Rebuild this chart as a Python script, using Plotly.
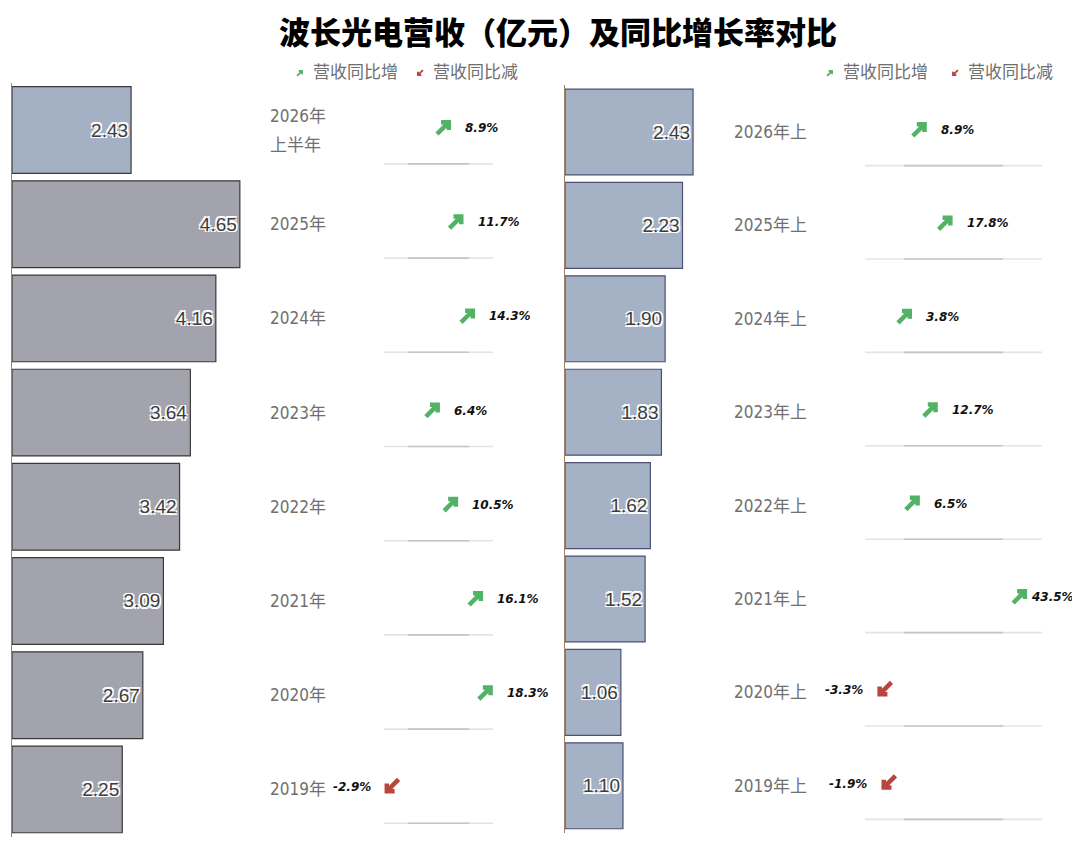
import plotly.graph_objects as go

# ---- data ----
annual_labels = ["2026年<br>上半年", "2025年", "2024年", "2023年", "2022年", "2021年", "2020年", "2019年"]
annual_revenue = [2.43, 4.65, 4.16, 3.64, 3.42, 3.09, 2.67, 2.25]
annual_growth = [8.9, 11.7, 14.3, 6.4, 10.5, 16.1, 18.3, -2.9]

half_labels = ["2026年上", "2025年上", "2024年上", "2023年上", "2022年上", "2021年上", "2020年上", "2019年上"]
half_revenue = [2.43, 2.23, 1.90, 1.83, 1.62, 1.52, 1.06, 1.10]
half_growth = [8.9, 17.8, 3.8, 12.7, 6.5, 43.5, -3.3, -1.9]

title_text = "波长光电营收（亿元）及同比增长率对比"
legend_up = "营收同比增"
legend_down = "营收同比减"

# the page puts the plot 8px in from the top-left corner of the window
OFF = 8
W, H = 1080 - OFF, 843 - OFF
GREEN = "#52b266"
RED = "#b8463c"
LABEL_FONT = "DejaVu Sans Condensed, Liberation Sans Narrow, Noto Sans CJK SC, sans-serif"
PCT_FONT = "DejaVu Sans, Verdana, sans-serif"

# bold north-east arrow outline, in pixels around its centre (y up)
ARROW_NE = [(-3, 7), (7, 7), (7, -3), (2.5, -3), (2.5, -0.7), (-5.4, -8.6),
            (-8.6, -5.4), (-0.7, 2.5), (-3, 2.5)]


def px(x):
    return (x - OFF) / W


def py(y):
    return 1 - (y - OFF) / H


def arrow_path(up, scale=1.0, lift=0.0):
    sign = 1 if up else -1
    pts = [(sign * x * scale, sign * y * scale + lift) for x, y in ARROW_NE]
    return "M" + " L".join(f"{x:.2f},{y:.2f}" for x, y in pts) + " Z"


fig = go.Figure()

panels = [
    dict(labels=annual_labels, rev=annual_revenue, growth=annual_growth,
         bar_dom=(12, 257), bar_rng=(0, 5),
         g_dom=(380, 545), g_rng=(-5.5, 31.6),
         y_dom=(82.9, 836.5), label_x=268, sep=(384, 493),
         edge="#3a3a3a",
         colors=["#a4b0c4"] + ["#a3a3ad"] * 7,
         legend_x=(300, 420)),
    dict(labels=half_labels, rev=half_revenue, growth=half_growth,
         bar_dom=(565, 723.1), bar_rng=(0, 3),
         g_dom=(850, 1070), g_rng=(-15.17, 60.7),
         y_dom=(85.3, 832.5), label_x=732, sep=(865, 1042),
         edge="#4a5078",
         colors=["#a5b1c5"] * 8,
         legend_x=(830, 955)),
]

annotations = []
shapes = []
axes = {}

for i, p in enumerate(panels):
    n = 2 * i + 1
    xb = "x" if n == 1 else f"x{n}"
    xg = f"x{n + 1}"
    yb = "y" if i == 0 else f"y{i + 1}"
    keys = [lab.replace("<br>", "") for lab in p["labels"]]

    fig.add_trace(go.Bar(
        x=p["rev"], y=keys, orientation="h",
        xaxis=xb, yaxis=yb,
        marker=dict(color=p["colors"], line=dict(color=p["edge"], width=1.2)),
        width=0.92,
        text=[f"{v:.2f}" for v in p["rev"]],
        textposition="inside", insidetextanchor="end",
        textfont=dict(family="Liberation Sans, Arial, sans-serif", size=19, color="#3c3c3c",
                      shadow="1.5px 1.5px 0 #fff, -1.5px -1.5px 0 #fff, 1.5px -1.5px 0 #fff, "
                             "-1.5px 1.5px 0 #fff, 0 0 2px #fff"),
        showlegend=False, hoverinfo="skip",
    ))
    # invisible trace so the growth axis has data
    fig.add_trace(go.Scatter(
        x=p["growth"], y=keys, mode="markers", marker=dict(size=1, opacity=0),
        xaxis=xg, yaxis=yb, showlegend=False, hoverinfo="skip",
    ))

    axes["xaxis" if n == 1 else f"xaxis{n}"] = dict(
        domain=[px(p["bar_dom"][0]), px(p["bar_dom"][1])], range=list(p["bar_rng"]),
        anchor=yb, visible=False, fixedrange=True)
    axes[f"xaxis{n + 1}"] = dict(
        domain=[px(p["g_dom"][0]), px(p["g_dom"][1])], range=list(p["g_rng"]),
        anchor=yb, visible=False, fixedrange=True)
    axes["yaxis" if i == 0 else f"yaxis{i + 1}"] = dict(
        domain=[py(p["y_dom"][1]), py(p["y_dom"][0])],
        type="category", categoryorder="array", categoryarray=keys,
        range=[len(keys) - 0.5, -0.5], anchor=xb,
        showticklabels=False, showgrid=False, zeroline=False, ticks="",
        showline=True, linecolor="#a08262", linewidth=1, fixedrange=True)

    g_max = max(p["growth"])
    for k, (lab, key, g) in enumerate(zip(p["labels"], keys, p["growth"])):
        up = g >= 0
        lines = lab.split("<br>")
        for j, line in enumerate(lines):
            annotations.append(dict(
                x=px(p["label_x"]), xref="paper", y=key, yref=yb, text=line,
                xanchor="left", yanchor="middle", showarrow=False,
                yshift=(len(lines) - 1) * 14.5 - j * 29,
                font=dict(family=LABEL_FONT, size=17, color="#707070")))
        shapes.append(dict(
            type="path", xref=xg, yref=yb, xsizemode="pixel", ysizemode="pixel",
            xanchor=g, yanchor=key, path=arrow_path(up, lift=3),
            fillcolor=GREEN if up else RED, line=dict(width=0)))
        # the label of a value near the right edge hugs its arrow
        gap = 9 if (up and g == g_max and g > 40) else 19
        annotations.append(dict(
            x=g, xref=xg, y=key, yref=yb, text=f"<b><i>{g:.1f}%</i></b>",
            xanchor="left" if up else "right", yanchor="middle", showarrow=False,
            xshift=gap if up else -gap, yshift=2,
            font=dict(family=PCT_FONT, size=12, color="#111")))
        # faded separator under each row
        ys = k + 0.36
        x0, x1 = p["sep"]
        shapes.append(dict(type="line", xref="paper", yref=yb, x0=px(x0), x1=px(x1),
                           y0=ys, y1=ys, line=dict(color="#e2e4e8", width=1.6), layer="below"))
        shapes.append(dict(type="line", xref="paper", yref=yb,
                           x0=px(x0 + (x1 - x0) * 0.22), x1=px(x0 + (x1 - x0) * 0.78),
                           y0=ys, y1=ys, line=dict(color="#c3c6ce", width=1.6), layer="below"))

    # legend
    for lx, txt, col, up in [(p["legend_x"][0], legend_up, GREEN, True),
                             (p["legend_x"][1], legend_down, RED, False)]:
        shapes.append(dict(
            type="path", xref="paper", yref="paper", xsizemode="pixel", ysizemode="pixel",
            xanchor=px(lx), yanchor=py(73), path=arrow_path(up, 0.42),
            fillcolor=col, line=dict(width=0)))
        annotations.append(dict(
            x=px(lx + 11), y=py(72), xref="paper", yref="paper", text=txt,
            xanchor="left", yanchor="middle", showarrow=False,
            font=dict(family=LABEL_FONT, size=17, color="#707070")))

annotations.append(dict(
    x=px(558), y=py(30), xref="paper", yref="paper", text=title_text,
    xanchor="center", yanchor="middle", showarrow=False,
    font=dict(family="Noto Sans CJK SC", size=31, color="#000", weight=900)))

fig.update_layout(
    width=W, height=H,
    margin=dict(l=0, r=0, t=0, b=0),
    paper_bgcolor="white", plot_bgcolor="rgba(0,0,0,0)",
    annotations=annotations, shapes=shapes,
    **axes,
)

fig.write_html("out.html")
